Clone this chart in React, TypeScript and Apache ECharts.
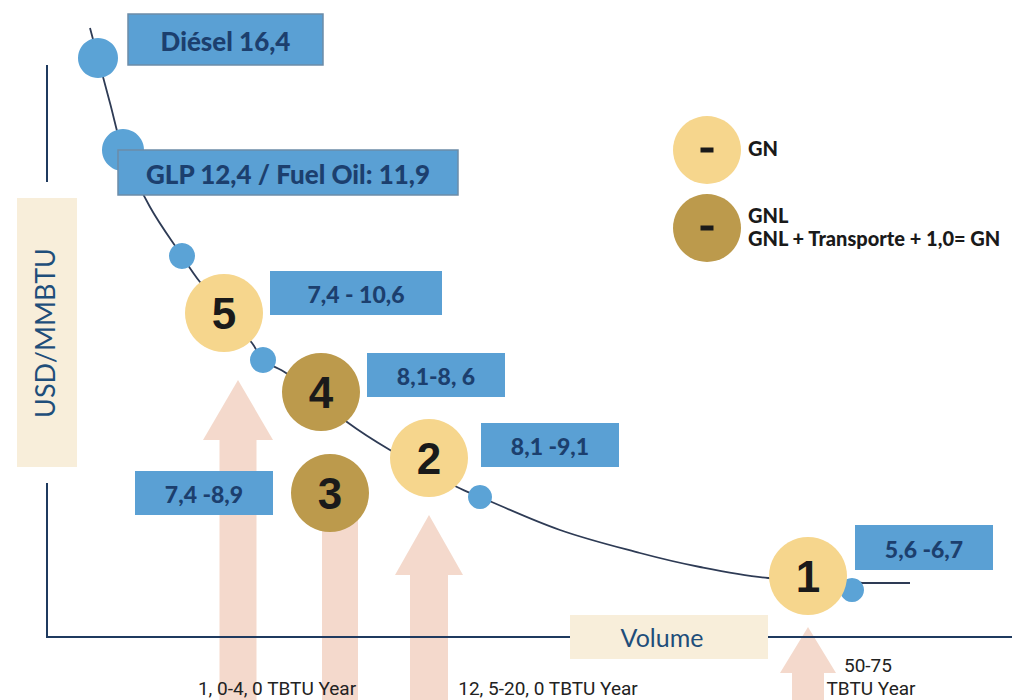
import React, { useEffect, useRef } from "react";
import * as echarts from "echarts";

// ---- data (abstract volume / price units, both hidden axes) ----
const curveX = [90, 98, 110, 123, 150, 182, 200, 252, 263, 286, 347, 390, 457, 480, 560, 640, 700, 768, 847, 863, 910];
const curveY = [28, 58, 103, 150, 207, 256, 282, 343, 360, 373, 422, 450, 487, 497, 530, 553, 567, 578, 581, 583, 583];

const dotX = [98, 123, 182, 263, 480, 852];
const dotY = [58, 150, 256, 360, 497, 590];
const dotSize = [40, 42, 26, 26, 24, 24];

const bubbleLabels = ["1", "2", "3", "4", "5"];
const bubbleX = [808, 429, 330, 321, 224];
const bubbleY = [576, 458, 493, 392, 313];
const bubbleType = ["GN", "GN", "GNL", "GNL", "GN"];

const boxLabels = ["Diésel 16,4", "GLP 12,4 / Fuel Oil: 11,9", "7,4 - 10,6", "8,1-8, 6", "8,1 -9,1", "7,4 -8,9", "5,6 -6,7"];
const volumeLabels = ["1, 0-4, 0 TBTU Year", "12, 5-20, 0 TBTU Year", "50-75", "TBTU Year"];
const legendLabels = ["GN", "GNL", "GNL + Transporte + 1,0= GN"];
const axisNames = ["USD/MMBTU", "Volume"];

// ---- layout / style ----
const W = 1017;
const H = 700;
const LIGHT = "#F6D68D";
const DARK = "#BC9A4C";
const BLUE_DOT = "#5BA3D6";
const BOX_BLUE = "#5AA0D4";
const BOX_TEXT = "#1C3F6E";
const NAVY = "#1F3A5F";
const BEIGE = "#F8EEDA";
const ARROW = "rgba(238,196,176,0.65)";
const BOLD_FONT = "Lato, 'Open Sans', sans-serif";

const boxRects = [
  { x: 128, y: 14, w: 195, h: 51, size: 26, border: true },
  { x: 118, y: 150, w: 340, h: 45, size: 26, border: true },
  { x: 270, y: 271, w: 172, h: 44, size: 23, border: false },
  { x: 367, y: 353, w: 138, h: 44, size: 23, border: false },
  { x: 481, y: 423, w: 138, h: 44, size: 23, border: false },
  { x: 135, y: 471, w: 138, h: 44, size: 23, border: false },
  { x: 855, y: 525, w: 138, h: 45, size: 23, border: false },
];

const arrows = [
  { cx: 238, tip: 380, base: 440, head: 35, shaft: 18.5 },
  { cx: 340, tip: 470, base: 505, head: 28, shaft: 18 },
  { cx: 429, tip: 515, base: 575, head: 34, shaft: 19 },
  { cx: 808, tip: 627, base: 673, head: 28, shaft: 16 },
];

function arrowPoints(a: { cx: number; tip: number; base: number; head: number; shaft: number }) {
  return [
    [a.cx - a.head, a.base],
    [a.cx, a.tip],
    [a.cx + a.head, a.base],
    [a.cx + a.shaft, a.base],
    [a.cx + a.shaft, H + 5],
    [a.cx - a.shaft, H + 5],
    [a.cx - a.shaft, a.base],
  ];
}

export default function App() {
  const ref = useRef<HTMLDivElement>(null);

  useEffect(() => {
    document.body.style.margin = "0";
    if (!ref.current) return;
    const chart = echarts.init(ref.current, undefined, { renderer: "svg" });

    const graphics: any[] = [];

    // arrows (behind everything)
    arrows.forEach((a) => {
      graphics.push({
        type: "polygon",
        z: 0,
        shape: { points: arrowPoints(a) },
        style: { fill: ARROW },
      });
    });

    // axes
    const axisLines = [
      [47, 65, 47, 182],
      [47, 483, 47, 637],
      [46, 637, 570, 637],
      [768, 637, 1012, 637],
    ];
    axisLines.forEach((l) => {
      graphics.push({
        type: "line",
        z: 1,
        shape: { x1: l[0], y1: l[1], x2: l[2], y2: l[3] },
        style: { stroke: NAVY, lineWidth: 2 },
      });
    });

    // axis name boxes
    graphics.push({ type: "rect", z: 1, shape: { x: 17, y: 198, width: 60, height: 269 }, style: { fill: BEIGE } });
    graphics.push({
      type: "text",
      z: 2,
      x: 44,
      y: 333,
      rotation: Math.PI / 2,
      style: {
        text: axisNames[0],
        fill: "#1F4E7A",
        font: "400 27px " + BOLD_FONT,
        textAlign: "center",
        textVerticalAlign: "middle",
      },
    });
    graphics.push({ type: "rect", z: 1, shape: { x: 570, y: 615, width: 198, height: 44 }, style: { fill: BEIGE } });
    graphics.push({
      type: "text",
      z: 2,
      x: 662,
      y: 637,
      style: {
        text: axisNames[1],
        fill: "#1F4E7A",
        font: "400 25px " + BOLD_FONT,
        textAlign: "center",
        textVerticalAlign: "middle",
      },
    });

    // value boxes
    boxRects.forEach((b, i) => {
      graphics.push({
        type: "rect",
        z: 10,
        shape: { x: b.x, y: b.y, width: b.w, height: b.h },
        style: { fill: BOX_BLUE, stroke: b.border ? "#6C8CA8" : BOX_BLUE, lineWidth: b.border ? 1.5 : 0 },
      });
      graphics.push({
        type: "text",
        z: 11,
        x: b.x + b.w / 2,
        y: b.y + b.h / 2 + 1,
        style: {
          text: boxLabels[i],
          fill: BOX_TEXT,
          font: "900 " + b.size + "px " + BOLD_FONT,
          textAlign: "center",
          textVerticalAlign: "middle",
        },
      });
    });

    // bottom volume labels
    const volPos = [
      { x: 277, y: 688 },
      { x: 548, y: 688 },
      { x: 868, y: 665 },
      { x: 871, y: 688 },
    ];
    volumeLabels.forEach((t, i) => {
      graphics.push({
        type: "text",
        z: 3,
        x: volPos[i].x,
        y: volPos[i].y,
        style: {
          text: t,
          fill: "#222222",
          font: "400 19px 'Liberation Sans Narrow', Roboto, sans-serif",
          textAlign: "center",
          textVerticalAlign: "middle",
        },
      });
    });

    // legend
    const legendCircles = [
      { cy: 150, color: LIGHT },
      { cy: 228, color: DARK },
    ];
    legendCircles.forEach((c) => {
      graphics.push({ type: "circle", z: 3, shape: { cx: 707, cy: c.cy, r: 34 }, style: { fill: c.color } });
      graphics.push({ type: "rect", z: 4, shape: { x: 700.5, y: c.cy - 2.5, width: 13, height: 5 }, style: { fill: "#1a1a1a" } });
    });
    const legendTextPos = [148, 215, 238];
    legendLabels.forEach((t, i) => {
      graphics.push({
        type: "text",
        z: 4,
        x: 748,
        y: legendTextPos[i],
        style: {
          text: t,
          fill: "#1a1a1a",
          font: "900 20px " + BOLD_FONT,
          textAlign: "left",
          textVerticalAlign: "middle",
        },
      });
    });

    const curveData = curveX.map((x, i) => [x, curveY[i]]);
    const dotData = dotX.map((x, i) => ({ value: [x, dotY[i]], symbolSize: dotSize[i] }));
    const bubbleData = bubbleX.map((x, i) => ({
      value: [x, bubbleY[i]],
      name: bubbleLabels[i],
      itemStyle: { color: bubbleType[i] === "GN" ? LIGHT : DARK },
    }));

    chart.setOption({
      animation: false,
      grid: { left: 0, right: 0, top: 0, bottom: 0 },
      xAxis: { type: "value", min: 0, max: W, show: false },
      yAxis: { type: "value", min: 0, max: H, inverse: true, show: false },
      series: [
        {
          type: "line",
          data: curveData,
          smooth: 0.35,
          symbol: "none",
          lineStyle: { color: "#2E3B55", width: 1.8 },
          z: 2,
        },
        {
          type: "scatter",
          data: dotData,
          itemStyle: { color: BLUE_DOT, opacity: 1 },
          z: 3,
        },
        {
          type: "scatter",
          data: bubbleData,
          symbolSize: 78,
          itemStyle: { opacity: 1 },
          label: {
            show: true,
            position: "inside",
            formatter: (p: any) => p.name,
            color: "#1a1a1a",
            fontSize: 44,
            fontWeight: 900,
            fontFamily: "'Liberation Sans', Arial, sans-serif",
          },
          z: 4,
        },
      ],
      graphic: { elements: graphics },
    });

    return () => chart.dispose();
  }, []);

  return <div ref={ref} style={{ width: W, height: H }} />;
}
